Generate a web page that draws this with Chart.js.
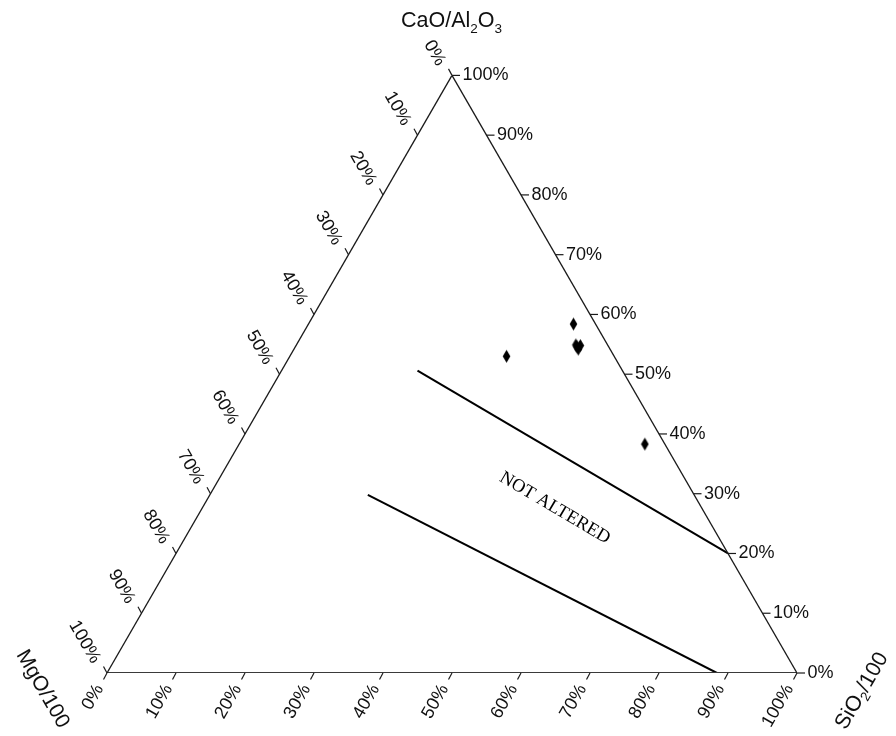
<!DOCTYPE html>
<html>
<head>
<meta charset="utf-8">
<title>CaO/Al2O3 – SiO2 – MgO ternary diagram</title>
<script src="https://cdn.jsdelivr.net/npm/chart.js@4/dist/chart.umd.min.js"></script>
<style>
  html, body { margin: 0; padding: 0; background: #ffffff; }
  #wrap { width: 896px; height: 736px; }
</style>
</head>
<body>
<div id="wrap"><canvas id="chart" width="896" height="736"></canvas></div>
<script>
// ---- data (percent) ----
const tickValues = [0, 10, 20, 30, 40, 50, 60, 70, 80, 90, 100];
const tickLabels = ['0%', '10%', '20%', '30%', '40%', '50%', '60%', '70%', '80%', '90%', '100%'];

// sample compositions
const sampleSiO2  = [38.4, 40.5, 41.2, 41.2, 40.8, 31.4, 58.8];
const sampleCaOAl = [58.4, 54.9, 54.8, 54.2, 54.6, 53.0, 38.3];
const sampleMgO   = [ 3.2,  4.6,  4.0,  4.6,  4.6, 15.6,  2.9];

// boundary lines of the "not altered" field
const upperSiO2  = [19.7, 80.0];
const upperCaOAl = [50.6, 20.0];
const upperMgO   = [29.7,  0.0];
const lowerSiO2  = [22.9, 88.4];
const lowerCaOAl = [29.8,  0.0];
const lowerMgO   = [47.3, 11.6];

// ---- ternary -> cartesian ----
const H = Math.sqrt(3) / 2;
function toXY(s, c, m) {
  const t = s + c + m;
  return { x: (s + c / 2) / t, y: (c * H) / t };
}
function series(sArr, cArr, mArr) {
  return sArr.map((s, i) => toXY(s, cArr[i], mArr[i]));
}

// diamond marker
function diamond() {
  const cv = document.createElement('canvas');
  cv.width = 9; cv.height = 15;
  const g = cv.getContext('2d');
  g.fillStyle = '#000';
  g.beginPath();
  g.moveTo(4.5, 1); g.lineTo(8.3, 7.5); g.lineTo(4.5, 14); g.lineTo(0.7, 7.5);
  g.closePath(); g.fill();
  return cv;
}

const edgeStyle = { showLine: true, pointRadius: 0, fill: false, borderColor: '#1a1a1a', borderWidth: 1.3 };

const SANS = '"Liberation Sans", Arial, Helvetica, sans-serif';
const SERIF = '"Liberation Serif", "Times New Roman", serif';

// axes, ticks, labels and titles of the triangle
const ternaryAxes = {
  id: 'ternaryAxes',
  afterDatasetsDraw(chart) {
    const ctx = chart.ctx;
    const sx = chart.scales.x, sy = chart.scales.y;
    const px = (s, c, m) => {
      const p = toXY(s, c, m);
      return [sx.getPixelForValue(p.x), sy.getPixelForValue(p.y)];
    };
    const seg = (x1, y1, x2, y2) => {
      ctx.beginPath(); ctx.moveTo(x1, y1); ctx.lineTo(x2, y2); ctx.stroke();
    };
    const rotText = (txt, x, y, ang, align) => {
      ctx.save();
      ctx.translate(x, y);
      ctx.rotate(ang);
      ctx.textAlign = align;
      ctx.textBaseline = 'middle';
      ctx.fillText(txt, 0, 0);
      ctx.restore();
    };

    ctx.save();
    ctx.strokeStyle = '#1a1a1a';
    ctx.lineWidth = 1.2;
    ctx.fillStyle = '#111';
    ctx.font = '18px ' + SANS;

    tickValues.forEach((v, i) => {
      const lab = tickLabels[i];
      // bottom axis: SiO2/100
      let [x, y] = px(v, 0, 100 - v);
      seg(x, y, x - 3.5, y + 6.5);
      rotText(lab, x - 7.5, y + 13, -Math.PI / 3, 'right');

      // right axis: CaO/Al2O3
      [x, y] = px(100 - v, v, 0);
      seg(x, y, x + 8, y);
      ctx.textAlign = 'left';
      ctx.textBaseline = 'middle';
      ctx.fillText(lab, x + 10.5, y);

      // left axis: MgO/100
      [x, y] = px(0, 100 - v, v);
      seg(x, y, x - 3.5, y - 6.5);
      rotText(lab, x - 11, y - 11, Math.PI / 3, 'right');
    });

    // top title with subscripts
    const [tx, ty] = px(0, 100, 0);
    ctx.textAlign = 'left';
    ctx.textBaseline = 'alphabetic';
    let cx = tx - 51;
    const base = ty - 48.5;
    const parts = [['CaO/Al', 21.5, 0], ['2', 13.5, 6.5], ['O', 21.5, 0], ['3', 13.5, 6.5]];
    parts.forEach(([t, sz, dy]) => {
      ctx.font = sz + 'px ' + SANS;
      ctx.fillText(t, cx, base + dy);
      cx += ctx.measureText(t).width;
    });

    // MgO/100 title
    const [lx, ly] = px(0, 0, 100);
    ctx.font = '21px ' + SANS;
    rotText('MgO/100', lx - 64.5, ly + 16, Math.PI / 3, 'center');

    // SiO2/100 title
    const [rx, ry] = px(100, 0, 0);
    ctx.save();
    ctx.translate(rx + 65, ry + 18);
    ctx.rotate(-Math.PI / 3);
    ctx.textBaseline = 'middle';
    ctx.textAlign = 'left';
    const sparts = [['SiO', 21.5, 0], ['2', 13.5, 6.5], ['/100', 21.5, 0]];
    let total = 0;
    sparts.forEach(([t, sz]) => { ctx.font = sz + 'px ' + SANS; total += ctx.measureText(t).width; });
    let ox = -total / 2;
    sparts.forEach(([t, sz, dy]) => {
      ctx.font = sz + 'px ' + SANS;
      ctx.fillText(t, ox, dy);
      ox += ctx.measureText(t).width;
    });
    ctx.restore();

    // field label
    const [fx, fy] = px(51.1, 27.6, 21.3);
    ctx.font = '18.5px ' + SERIF;
    ctx.fillStyle = '#000';
    rotText('NOT ALTERED', fx, fy, 30.5 * Math.PI / 180, 'center');

    ctx.restore();
  }
};

new Chart(document.getElementById('chart'), {
  type: 'scatter',
  data: {
    datasets: [
      Object.assign({ data: [toXY(0, 0, 100), toXY(0, 100, 0)] }, edgeStyle),
      Object.assign({ data: [toXY(100, 0, 0), toXY(0, 100, 0)] }, edgeStyle),
      Object.assign({}, edgeStyle, { data: [toXY(0, 0, 100), toXY(100, 0, 0)], borderColor: '#3a3a3a', borderWidth: 2 }),
      { data: series(upperSiO2, upperCaOAl, upperMgO), showLine: true, pointRadius: 0, borderColor: '#000', borderWidth: 2 },
      { data: series(lowerSiO2, lowerCaOAl, lowerMgO), showLine: true, pointRadius: 0, borderColor: '#000', borderWidth: 2 },
      { data: series(sampleSiO2, sampleCaOAl, sampleMgO), showLine: false, pointStyle: diamond(), pointRadius: 5 }
    ]
  },
  options: {
    responsive: false,
    animation: false,
    events: [],
    layout: { padding: { left: 107, right: 99, top: 75.4, bottom: 63 } },
    scales: {
      x: { type: 'linear', min: 0, max: 1, display: false },
      y: { type: 'linear', min: 0, max: H, display: false }
    },
    plugins: { legend: { display: false }, tooltip: { enabled: false } }
  },
  plugins: [ternaryAxes]
});
</script>
</body>
</html>
